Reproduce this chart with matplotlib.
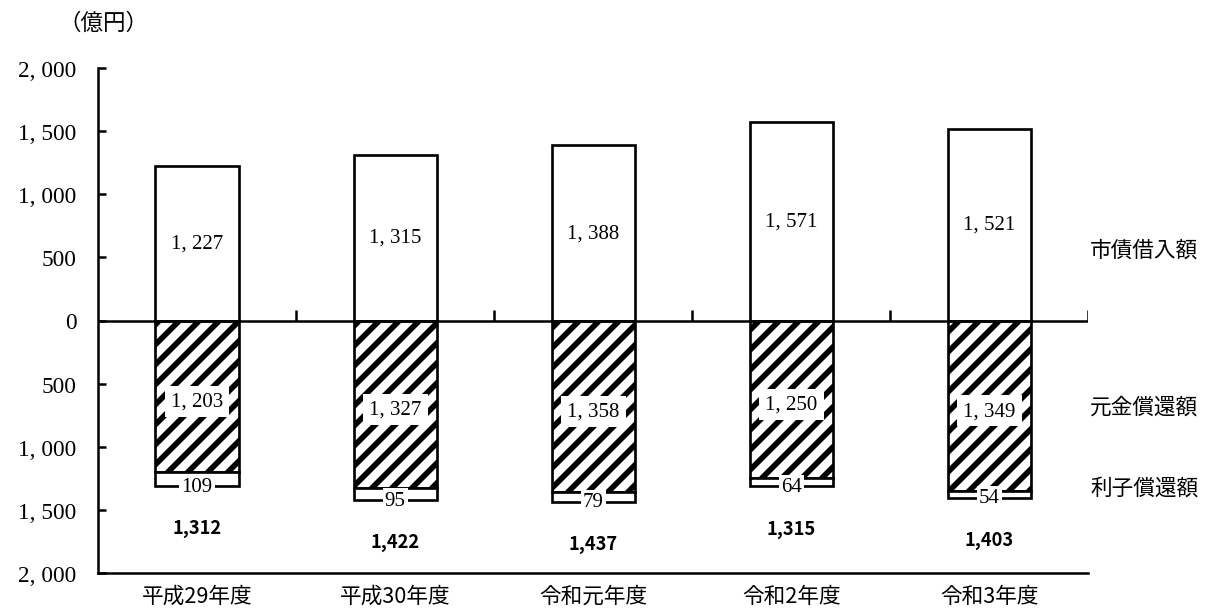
import numpy as np
import matplotlib
matplotlib.use('Agg')
import matplotlib.pyplot as plt

plt.rcParams['font.family'] = ['Noto Sans CJK JP', 'DejaVu Sans']
plt.rcParams['hatch.linewidth'] = 3.4

# fiscal years and amounts (億円)
years = ['平成29年度', '平成30年度', '令和元年度', '令和2年度', '令和3年度']
borrowing = [1227, 1315, 1388, 1571, 1521]      # 市債借入額
principal = [1203, 1327, 1358, 1250, 1349]      # 元金償還額
interest = [109, 95, 79, 64, 54]                # 利子償還額
repay_total = [1312, 1422, 1437, 1315, 1403]    # 償還額合計
series_names = ['市債借入額', '元金償還額', '利子償還額']
yticks = [2000, 1500, 1000, 500, 0, -500, -1000, -1500, -2000]

num_font = 'Liberation Serif'


def fmt(v):
    return f'{abs(v):,}'.replace(',', ', ')


fig = plt.figure(figsize=(10.175, 5.108), dpi=120)
ax = fig.add_axes([0.0803, 0.0636, 0.811, 0.8238])

x = np.arange(len(years))
w = 0.42
neg_principal = -np.array(principal)
neg_interest = -np.array(interest)

ax.bar(x, borrowing, w, facecolor='white', edgecolor='black', linewidth=1.6, zorder=2)
ax.bar(x, neg_principal, w, facecolor='white', edgecolor='black', hatch='//',
       linewidth=1.6, zorder=2)
ax.bar(x, neg_interest, w, bottom=neg_principal, facecolor='white', edgecolor='black',
       linewidth=1.6, zorder=2)

# values on the bars
for i in range(len(years)):
    ax.text(x[i], borrowing[i] / 2, fmt(borrowing[i]), ha='center', va='center',
            fontsize=12.5, family=num_font, zorder=4)
    ax.text(x[i], -principal[i] / 2 - 40, fmt(principal[i]), ha='center', va='center',
            fontsize=12.5, family=num_font, zorder=4,
            bbox=dict(boxstyle='square,pad=0.3', fc='white', ec='none'))
    ax.text(x[i], -principal[i] - interest[i], str(interest[i]), ha='center',
            va='center', fontsize=12.5, family=num_font, zorder=4,
            bbox=dict(boxstyle='square,pad=0.1', fc='white', ec='none'))
    ax.annotate(f'{repay_total[i]:,}', (x[i], -principal[i] - interest[i]),
                xytext=(0, -25), textcoords='offset points', ha='center', va='center',
                fontsize=11, fontweight='bold', zorder=4)

# zero line with category separators
ax.axhline(0, color='black', linewidth=1.5, zorder=3)
ax.vlines(np.arange(0.5, len(years)), 0, 80, color='black', linewidth=1.5, zorder=3)

ax.set_xlim(-0.5, len(years) - 0.5)
ax.set_ylim(-2000, 2000)
ax.set_xticks(x)
ax.set_xticklabels(years, fontsize=13)
ax.tick_params(axis='x', length=0, pad=7)
ax.set_yticks(yticks)
ax.set_yticklabels([fmt(v) for v in yticks], family=num_font, fontsize=14)
ax.tick_params(axis='y', direction='in', length=5, width=1.5, pad=13)

for s in ['top', 'right']:
    ax.spines[s].set_visible(False)
ax.spines['left'].set_linewidth(1.5)
ax.spines['bottom'].set_linewidth(1.5)

# series names on the right
ax.text(1.002, 0.5 + 560 / 4000, series_names[0], transform=ax.transAxes,
        fontsize=13, va='center', ha='left')
ax.text(1.002, 0.5 - 685 / 4000, series_names[1], transform=ax.transAxes,
        fontsize=13, va='center', ha='left')
ax.text(1.002, 0.5 - 1320 / 4000, series_names[2], transform=ax.transAxes,
        fontsize=13, va='center', ha='left')

fig.text(0.048, 0.962, '（億円）', fontsize=13.5, va='center', ha='left')

fig.savefig('out.png', dpi=120)
